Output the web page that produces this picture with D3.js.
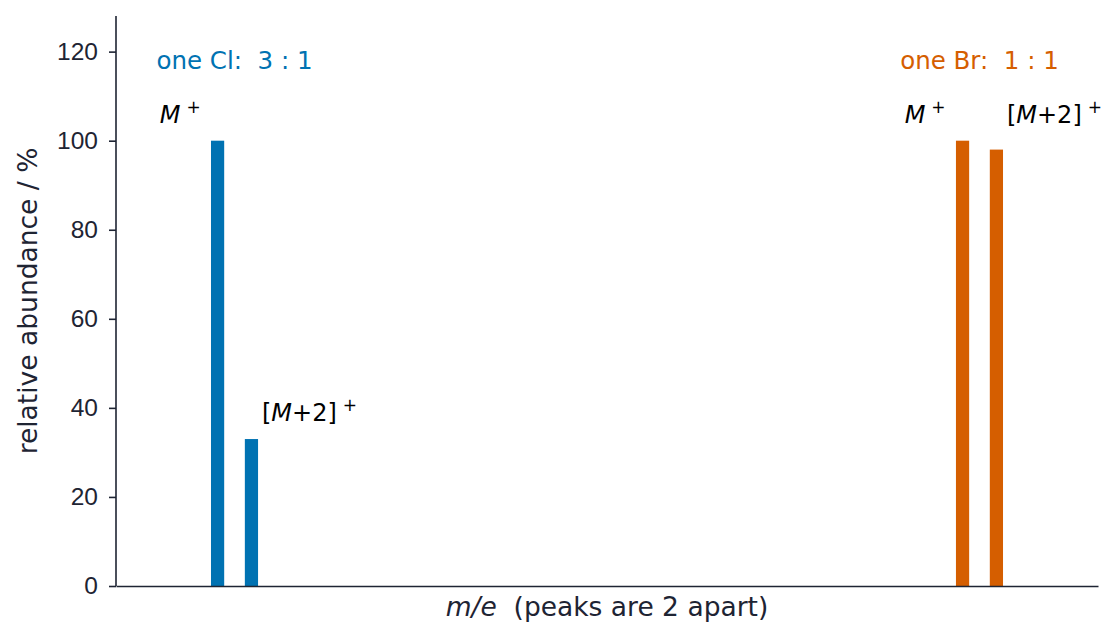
<!DOCTYPE html>
<html lang="en">
<head>
<meta charset="UTF-8">
<title>Isotope patterns: Cl and Br</title>
<style>
body { margin: 0; background: #fff; }
svg { display: block; font-family: "DejaVu Sans", sans-serif; }
.axis path, .axis line { stroke: #1e2433; stroke-width: 1.6; }
.axis text { fill: #1e2433; font-size: 24.5px; }
</style>
</head>
<body>
<svg width="1102" height="626"></svg>
<script src="https://d3js.org/d3.v7.min.js"></script>
<script>
// peaks (m/e) and relative abundance
const clMasses = [35, 37];
const clAbund = [100, 33];
const brMasses = [79, 81];
const brAbund = [100, 98];

const peakNames = ['M', '[M+2]'];
const clLabelAt = [104, 37];
const brLabelAt = [104, 104];

const yTicks = [0, 20, 40, 60, 80, 100, 120];
const xDomain = [29, 87];
const yDomain = [0, 128];

const groups = [
    { name: 'one Cl:', ratio: '3 : 1', masses: clMasses, abund: clAbund, labelAt: clLabelAt, color: '#0072b2' },
    { name: 'one Br:', ratio: '1 : 1', masses: brMasses, abund: brAbund, labelAt: brLabelAt, color: '#d55e00' }
];

var svg = d3.select('svg');
var margin = { top: 16, right: 4, bottom: 40, left: 116 };
var width = +svg.attr('width') - margin.left - margin.right;
var height = +svg.attr('height') - margin.top - margin.bottom;

var x = d3.scaleLinear().domain(xDomain).range([0, width]);
var y = d3.scaleLinear().domain(yDomain).range([height, 0]);

var g = svg.append('g')
    .attr('transform', `translate(${margin.left},${margin.top})`);

var barW = x(xDomain[0] + 0.78) - x(xDomain[0]);

groups.forEach(grp => {
    var peaks = grp.masses.map((m, i) => ({ m: m, v: grp.abund[i], name: peakNames[i], ly: grp.labelAt[i], i: i }));

    g.append('g').selectAll('rect')
        .data(peaks)
        .join('rect')
        .attr('x', d => x(d.m) - barW / 2)
        .attr('width', barW)
        .attr('y', d => y(d.v))
        .attr('height', d => y(0) - y(d.v))
        .attr('fill', grp.color);

    // peak labels: M+ sits left of its bar, [M+2]+ right of its bar
    peaks.forEach(d => {
        var t = g.append('text')
            .attr('y', y(d.ly))
            .attr('font-size', 24)
            .attr('fill', '#000');
        if (d.i === 0) {
            t.attr('x', x(d.m - 1)).attr('text-anchor', 'end');
            t.append('tspan').attr('font-style', 'italic').text('M');
        } else {
            t.attr('x', x(d.m + 0.62)).attr('text-anchor', 'start');
            t.append('tspan').text('[');
            t.append('tspan').attr('font-style', 'italic').text('M');
            t.append('tspan').text('+2]');
        }
        t.append('tspan').attr('dx', 6).attr('dy', -10).attr('font-size', 17).text('+');
    });

    var mid = d3.mean(grp.masses);
    g.append('text')
        .attr('x', x(mid))
        .attr('y', y(116))
        .attr('text-anchor', 'middle')
        .attr('font-size', 24.5)
        .attr('fill', grp.color)
        .style('white-space', 'pre')
        .text(grp.name + '  ' + grp.ratio);
});

// axes
g.append('g')
    .attr('class', 'axis')
    .call(d3.axisLeft(y).tickValues(yTicks).tickSize(7).tickPadding(11))
    .call(a => a.select('.domain').attr('d', `M0,${height}V0`));

g.append('g')
    .attr('class', 'axis')
    .attr('transform', `translate(0,${height})`)
    .call(d3.axisBottom(x).tickValues([]).tickSizeOuter(0));

// axis titles
var xt = g.append('text')
    .attr('x', width / 2)
    .attr('y', height + 30)
    .attr('text-anchor', 'middle')
    .attr('font-size', 26.5)
    .attr('fill', '#1e2433')
    .style('white-space', 'pre');
xt.append('tspan').attr('font-style', 'italic').text('m/e');
xt.append('tspan').text('  (peaks are 2 apart)');

g.append('text')
    .attr('transform', `translate(${-79},${height / 2}) rotate(-90)`)
    .attr('text-anchor', 'middle')
    .attr('font-size', 26.5)
    .attr('fill', '#1e2433')
    .text('relative abundance / %');
</script>
</body>
</html>
